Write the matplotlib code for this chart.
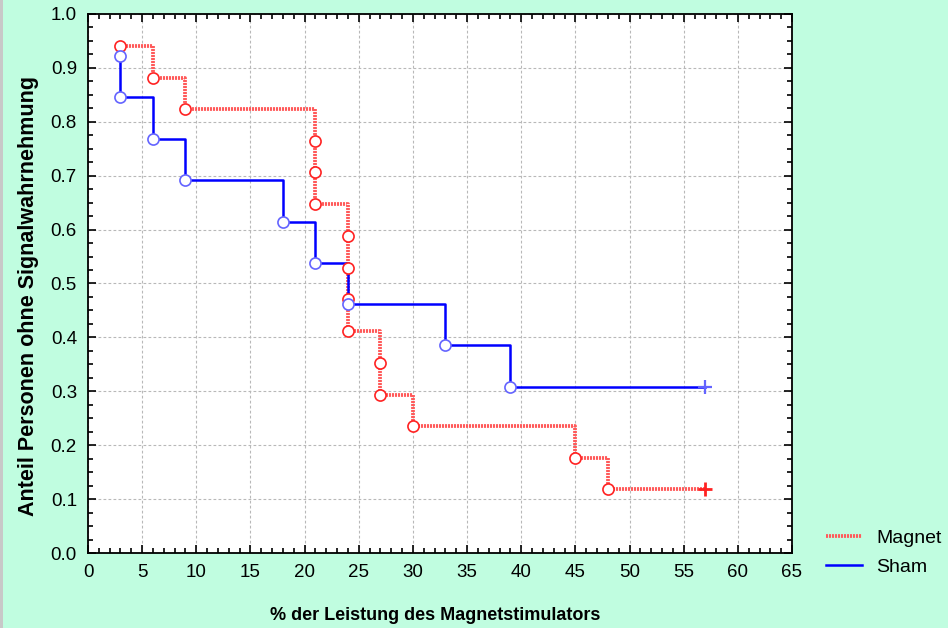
import matplotlib
matplotlib.use("Agg")
import matplotlib.pyplot as plt
from matplotlib.ticker import MultipleLocator, FormatStrFormatter
from matplotlib.lines import Line2D
from matplotlib.patches import Rectangle
from matplotlib import font_manager

# Data (Kaplan-Meier style curves)
magnet_x = [3, 6, 9, 21, 21, 21, 24, 24, 24, 24, 27, 27, 30, 45, 48, 57]
magnet_y = [0.941, 0.882, 0.824, 0.765, 0.706, 0.647, 0.588, 0.529, 0.471,
            0.412, 0.353, 0.294, 0.235, 0.176, 0.118, 0.118]
sham_x = [3, 3, 6, 9, 18, 21, 24, 33, 39, 57]
sham_y = [0.923, 0.846, 0.769, 0.692, 0.615, 0.538, 0.462, 0.385, 0.308, 0.308]
series_labels = ["Magnet", "Sham"]
x_label = "% der Leistung des Magnetstimulators"
y_label = "Anteil Personen ohne Signalwahrnehmung"

plt.rcParams['font.family'] = ['Liberation Sans', 'DejaVu Sans']

installed = {f.name for f in font_manager.fontManager.ttflist}
if 'Liberation Sans Narrow' in installed:
    xlab_family = ['Liberation Sans Narrow', 'DejaVu Sans']
    xlab_size = 15.5
else:
    xlab_family = ['Liberation Sans', 'DejaVu Sans']
    xlab_size = 13

BG = '#c0fde0'
RED_LINE = '#ff5a5a'
RED_MARK = '#ff2222'
BLUE_LINE = '#0000ff'
BLUE_MARK = '#6464ff'

fig = plt.figure(figsize=(9.48, 6.28), dpi=100, facecolor=BG)
fig.patches.append(Rectangle((0, 0), 2.5 / 948, 1, transform=fig.transFigure,
                             facecolor='#c8c8c8', edgecolor='none', zorder=0))
ax = fig.add_axes([88 / 948, 1 - 553 / 628, (792 - 88) / 948, (553 - 14) / 628])
ax.set_facecolor('white')

red_dash = (0, (0.55, 0.25))

# Magnet curve
ax.step(magnet_x, magnet_y, where='post', color=RED_LINE, lw=2.7,
        linestyle=red_dash, zorder=3, dash_capstyle='butt')
ax.plot(magnet_x[:-1], magnet_y[:-1], 'o', ms=8, mfc='white', mec=RED_MARK,
        mew=1.2, zorder=5, linestyle='none')
ax.plot(magnet_x[-1:], magnet_y[-1:], '+', ms=10, mec=RED_MARK, mew=2.0,
        zorder=5, linestyle='none')

# Sham curve
ax.step(sham_x, sham_y, where='post', color=BLUE_LINE, lw=1.8, zorder=4)
ax.plot(sham_x[:-1], sham_y[:-1], 'o', ms=8, mfc='white', mec=BLUE_MARK,
        mew=1.2, zorder=6, linestyle='none')
ax.plot(sham_x[-1:], sham_y[-1:], '+', ms=10, mec=BLUE_MARK, mew=1.6,
        zorder=6, linestyle='none')

ax.set_xlim(0, 65)
ax.set_ylim(0, 1.0)
ax.xaxis.set_major_locator(MultipleLocator(5))
ax.xaxis.set_minor_locator(MultipleLocator(1))
ax.yaxis.set_major_locator(MultipleLocator(0.1))
ax.yaxis.set_minor_locator(MultipleLocator(0.025))
ax.yaxis.set_major_formatter(FormatStrFormatter('%.1f'))

ax.tick_params(which='both', direction='in', top=True, right=True,
               color='black', width=1.2)
ax.tick_params(which='major', length=6)
ax.tick_params(which='minor', length=3.5)
ax.tick_params(axis='x', which='major', pad=8, labelsize=13.5)
ax.tick_params(axis='y', which='major', pad=8, labelsize=13.5)

for sp in ax.spines.values():
    sp.set_linewidth(1.3)
    sp.set_color('black')

ax.grid(True, which='major', color='#b8b8b8', linestyle=(0, (2.5, 2)), lw=0.8)
ax.set_axisbelow(True)

ax.set_xlabel(x_label, fontsize=xlab_size, fontweight='bold',
              family=xlab_family, va='center')
ax.xaxis.set_label_coords((435 - 88) / (792 - 88), -(616 - 553) / (553 - 14))
ax.set_ylabel(y_label, fontsize=15.5, fontweight='bold', va='center')
ax.yaxis.set_label_coords(-(88 - 29) / (792 - 88), (553 - 296) / (553 - 14))

handles = [
    Line2D([], [], color=RED_LINE, lw=2.7, linestyle=red_dash),
    Line2D([], [], color=BLUE_LINE, lw=1.8),
]
fig.legend(handles, series_labels, loc='center left',
           bbox_to_anchor=(826 / 948, 1 - 552.5 / 628), frameon=False,
           fontsize=14, handlelength=1.85, handletextpad=0.72,
           labelspacing=0.6, borderpad=0, borderaxespad=0)

fig.savefig('out.png', dpi=100, facecolor=BG)
